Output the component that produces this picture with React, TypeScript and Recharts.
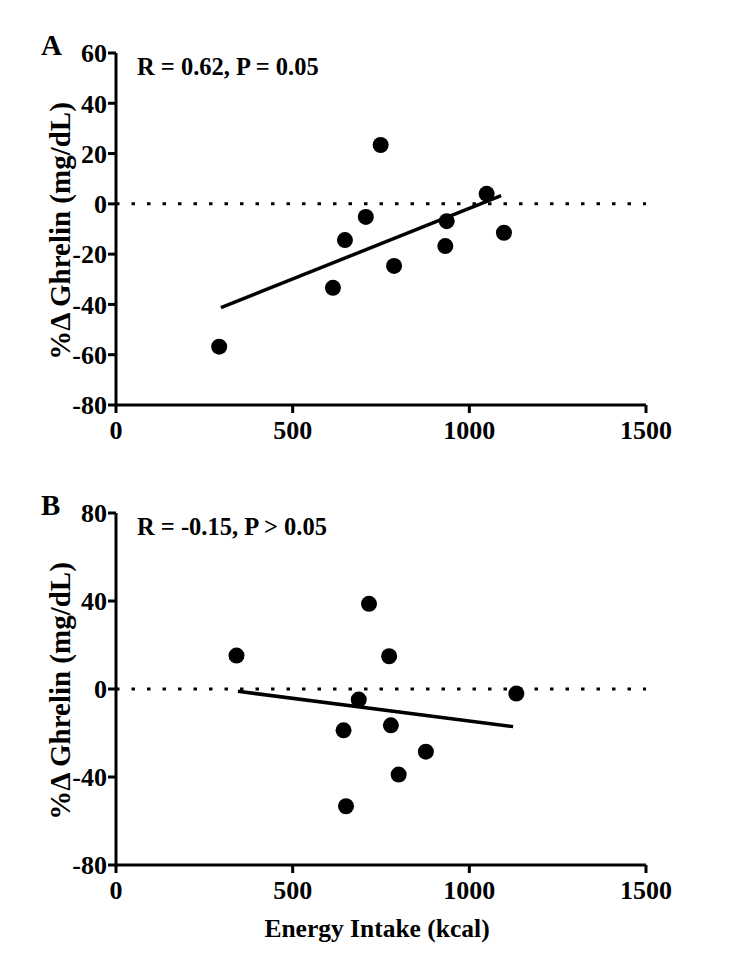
import React from 'react';
import { ScatterChart, Scatter, XAxis, YAxis, ReferenceLine } from 'recharts';

const intakeTicks = [0, 500, 1000, 1500];
const ghrelinTicksA = [-80, -60, -40, -20, 0, 20, 40, 60];
const ghrelinTicksB = [-80, -40, 0, 40, 80];

// panel A
const intakeA = [292, 614, 648, 707, 749, 787, 932, 936, 1049, 1098];
const ghrelinA = [-56.8, -33.4, -14.4, -5.2, 23.4, -24.7, -16.8, -6.9, 4.0, -11.5];
const fitIntakeA = [297, 1090];
const fitGhrelinA = [-41.3, 3.3];

// panel B
const intakeB = [341, 644, 651, 687, 716, 773, 778, 800, 877, 1133];
const ghrelinB = [15.2, -18.8, -53.3, -4.8, 38.7, 14.9, -16.5, -38.9, -28.5, -2.1];
const fitIntakeB = [345, 1124];
const fitGhrelinB = [-1.05, -17.1];

const FONT = 'Liberation Serif, Tinos, DejaVu Serif, serif';
const tickStyle = { fill: '#000', fontSize: 26, fontWeight: 700, fontFamily: FONT };

const toPoints = (xs: number[], ys: number[]) => xs.map((x, i) => ({ x, y: ys[i] }));

const Dot = (props: any) => <circle cx={props.cx} cy={props.cy} r={8} fill="#000" />;
const NoDot = () => <g />;

interface PanelProps {
  top: number;
  height: number;
  letter: string;
  stat: string;
  ticks: number[];
  domain: [number, number];
  points: { x: number; y: number }[];
  fit: { x: number; y: number }[];
  xTitle?: string;
}

const Panel: React.FC<PanelProps> = ({ top, height, letter, stat, ticks, domain, points, fit, xTitle }) => (
  <div style={{ position: 'absolute', left: 0, top, width: 735, height, fontFamily: FONT }}>
    <ScatterChart
      width={735}
      height={height}
      margin={{ top: 53, right: 89, left: 56, bottom: xTitle ? 31 : 15 }}
    >
      <XAxis
        type="number"
        dataKey="x"
        domain={[0, 1500]}
        ticks={intakeTicks}
        allowDataOverflow
        height={xTitle ? 70 : 40}
        stroke="#000"
        strokeWidth={3}
        tickSize={8}
        tickMargin={8}
        tick={tickStyle}
        label={
          xTitle
            ? { value: xTitle, position: 'insideBottom', offset: -2, dx: -4, style: { ...tickStyle, fontSize: 25.5 } }
            : undefined
        }
      />
      <YAxis
        type="number"
        dataKey="y"
        domain={domain}
        ticks={ticks}
        allowDataOverflow
        width={60}
        stroke="#000"
        strokeWidth={3}
        tickSize={8}
        tickMargin={1}
        tick={tickStyle}
        label={{
          value: '%Δ Ghrelin (mg/dL)',
          angle: -90,
          position: 'center',
          dx: -26,
          dy: 2,
          style: { ...tickStyle, fontSize: 29, textAnchor: 'middle' },
        }}
      />
      <ReferenceLine y={0} stroke="#000" strokeWidth={3} strokeDasharray="3.5 12" />
      <Scatter
        data={fit}
        line={{ stroke: '#000', strokeWidth: 3.5 }}
        shape={NoDot}
        isAnimationActive={false}
      />
      <Scatter data={points} shape={Dot} isAnimationActive={false} />
    </ScatterChart>
    <div
      style={{
        position: 'absolute', left: 41, top: 31, fontFamily: FONT, fontWeight: 700,
        fontSize: 29, lineHeight: 1,
      }}
    >
      {letter}
    </div>
    <div
      style={{
        position: 'absolute', left: 137, top: 55, fontFamily: FONT, fontWeight: 700,
        fontSize: 24.5, lineHeight: 1, whiteSpace: 'nowrap',
      }}
    >
      {stat}
    </div>
  </div>
);

export default function App() {
  return (
    <div style={{ position: 'absolute', left: 0, top: 0, width: 735, height: 966, background: '#fff' }}>
      <Panel
        top={0}
        height={460}
        letter="A"
        stat="R = 0.62, P = 0.05"
        ticks={ghrelinTicksA}
        domain={[-80, 60]}
        points={toPoints(intakeA, ghrelinA)}
        fit={toPoints(fitIntakeA, fitGhrelinA)}
      />
      <Panel
        top={460}
        height={506}
        letter="B"
        stat="R = -0.15, P > 0.05"
        ticks={ghrelinTicksB}
        domain={[-80, 80]}
        points={toPoints(intakeB, ghrelinB)}
        fit={toPoints(fitIntakeB, fitGhrelinB)}
        xTitle="Energy Intake (kcal)"
      />
    </div>
  );
}
